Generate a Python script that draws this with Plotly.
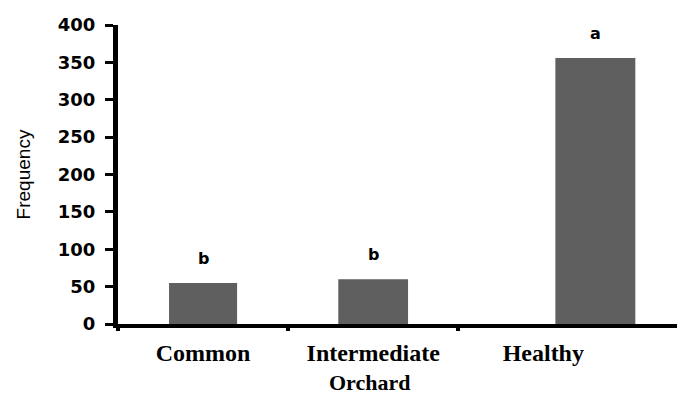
import plotly.graph_objects as go

categories = ["Common", "Intermediate", "Healthy"]
frequency = [55, 60, 356]
letters = ["b", "b", "a"]
y_ticks = [0, 50, 100, 150, 200, 250, 300, 350, 400]
boundary_ticks = [-0.5, 0.5, 1.5]
x_title = "Orchard"
y_title = "Frequency"

# styling (bar widths / offsets in category units)
bar_widths = [0.40, 0.41, 0.47]
bar_shift = [0.0, 0.0, 0.306]
offsets = [s - w / 2 for s, w in zip(bar_shift, bar_widths)]
letter_xshift = [0, 0, 52]
x_range = [-0.5, 2.88]

fig = go.Figure()
fig.add_trace(go.Bar(
    x=categories, y=frequency, width=bar_widths, offset=offsets,
    marker=dict(color="#5f5f5f", line=dict(width=0)),
    showlegend=False,
))
# empty helper trace so the boundary-tick axis is drawn
fig.add_trace(go.Scatter(x=[], y=[], xaxis="x2", yaxis="y",
                         showlegend=False, hoverinfo="skip"))

for c, v, t, xs in zip(categories, frequency, letters, letter_xshift):
    fig.add_annotation(x=c, y=v, text="<b>%s</b>" % t, showarrow=False,
                       yanchor="bottom", yshift=13, xshift=xs,
                       font=dict(family="DejaVu Sans", size=16, color="black"))

# x-axis title placed as annotation (centred left of plot centre as in reference)
fig.add_annotation(xref="paper", yref="paper", x=0.438, y=0, yanchor="top",
                   yshift=-45, text=x_title, showarrow=False, borderpad=0,
                   font=dict(family="Liberation Serif", size=22, color="black",
                             weight="bold"))

fig.update_layout(
    width=685, height=394,
    margin=dict(l=110, r=0, t=17, b=78),
    plot_bgcolor="white", paper_bgcolor="white",
    xaxis=dict(
        range=x_range, showline=True, linecolor="black", linewidth=4,
        ticks="", showgrid=False, zeroline=False, automargin=False,
        ticklabelstandoff=4,
        tickfont=dict(family="Liberation Serif", size=24, color="black", weight="bold"),
    ),
    xaxis2=dict(
        overlaying="x", anchor="y", side="bottom", range=x_range,
        tickvals=boundary_ticks, showticklabels=False,
        ticks="outside", ticklen=6, tickwidth=4, tickcolor="black",
        showline=False, showgrid=False, zeroline=False, automargin=False,
    ),
    yaxis=dict(
        range=[0, 400], tickvals=y_ticks, showline=True, linecolor="black",
        linewidth=5, ticks="outside", ticklen=8, tickwidth=3, tickcolor="black",
        showgrid=False, zeroline=False, automargin=False,
        ticklabelstandoff=6,
        tickfont=dict(family="DejaVu Sans", size=18, color="black", weight="bold"),
        title=dict(text=y_title, standoff=24,
                   font=dict(family="Liberation Sans", size=19, color="black")),
    ),
)

fig.write_html("out.html")
